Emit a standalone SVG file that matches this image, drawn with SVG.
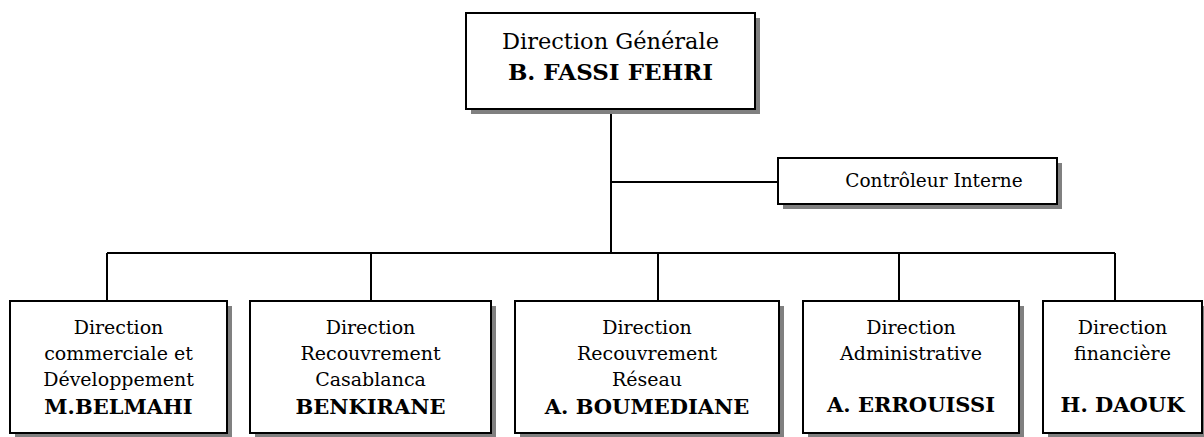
<svg xmlns="http://www.w3.org/2000/svg" width="1204" height="437" viewBox="0 0 1204 437">
<style>
.box{fill:#fff;stroke:#000;stroke-width:2}
.sh{fill:#808080}
.ln{fill:none;stroke:#000;stroke-width:2}
text{font-family:"DejaVu Serif","Liberation Serif",serif;text-anchor:middle;fill:#000}
.d{font-size:19px}
.n{font-size:21px;font-weight:bold}
</style>
<rect width="1204" height="437" fill="#fff"/>
<g id="connectors">
<path class="ln" d="M611,109 V253 M611,182 H778 M107,253 H1115 M107,253 V301 M371,253 V301 M658,253 V301 M899,253 V301 M1115,253 V301"/>
</g>
<g id="direction-generale">
<rect class="sh" x="471" y="18" width="289" height="96"/>
<rect class="box" x="466" y="13" width="289" height="96"/>
<text x="610.5" y="49" style="font-size:22.5px">Direction Générale</text>
<text x="610.5" y="80" style="font-size:23px;font-weight:bold">B. FASSI FEHRI</text>
</g>
<g id="controleur">
<rect class="sh" x="783" y="163" width="279" height="46"/>
<rect class="box" x="778" y="158" width="279" height="46"/>
<text x="934" y="187" style="font-size:18.5px">Contrôleur Interne</text>
</g>
<g id="dir-commerciale">
<rect class="sh" x="15" y="306" width="217" height="135"/>
<rect class="box" x="10" y="301" width="217" height="132"/>
<text class="d" x="118.5" y="334">Direction</text>
<text class="d" x="118.5" y="360">commerciale et</text>
<text class="d" x="118.5" y="386">Développement</text>
<text class="n" x="118.5" y="414">M.BELMAHI</text>
</g>
<g id="dir-recouvrement-casa">
<rect class="sh" x="255" y="306" width="241" height="135"/>
<rect class="box" x="250" y="301" width="241" height="132"/>
<text class="d" x="370.5" y="334">Direction</text>
<text class="d" x="370.5" y="360">Recouvrement</text>
<text class="d" x="370.5" y="386">Casablanca</text>
<text class="n" x="370.5" y="414">BENKIRANE</text>
</g>
<g id="dir-recouvrement-reseau">
<rect class="sh" x="520" y="306" width="264" height="135"/>
<rect class="box" x="515" y="301" width="264" height="132"/>
<text class="d" x="647" y="334">Direction</text>
<text class="d" x="647" y="360">Recouvrement</text>
<text class="d" x="647" y="386">Réseau</text>
<text class="n" x="647" y="414">A. BOUMEDIANE</text>
</g>
<g id="dir-administrative">
<rect class="sh" x="808" y="306" width="216" height="135"/>
<rect class="box" x="803" y="301" width="216" height="132"/>
<text class="d" x="911" y="334">Direction</text>
<text class="d" x="911" y="360">Administrative</text>
<text class="n" x="911" y="412">A. ERROUISSI</text>
</g>
<g id="dir-financiere">
<rect class="sh" x="1048" y="306" width="159" height="135"/>
<rect class="box" x="1043" y="301" width="159" height="132"/>
<text class="d" x="1122.5" y="334">Direction</text>
<text class="d" x="1122.5" y="360">financière</text>
<text class="n" x="1122.5" y="412">H. DAOUK</text>
</g>
</svg>
